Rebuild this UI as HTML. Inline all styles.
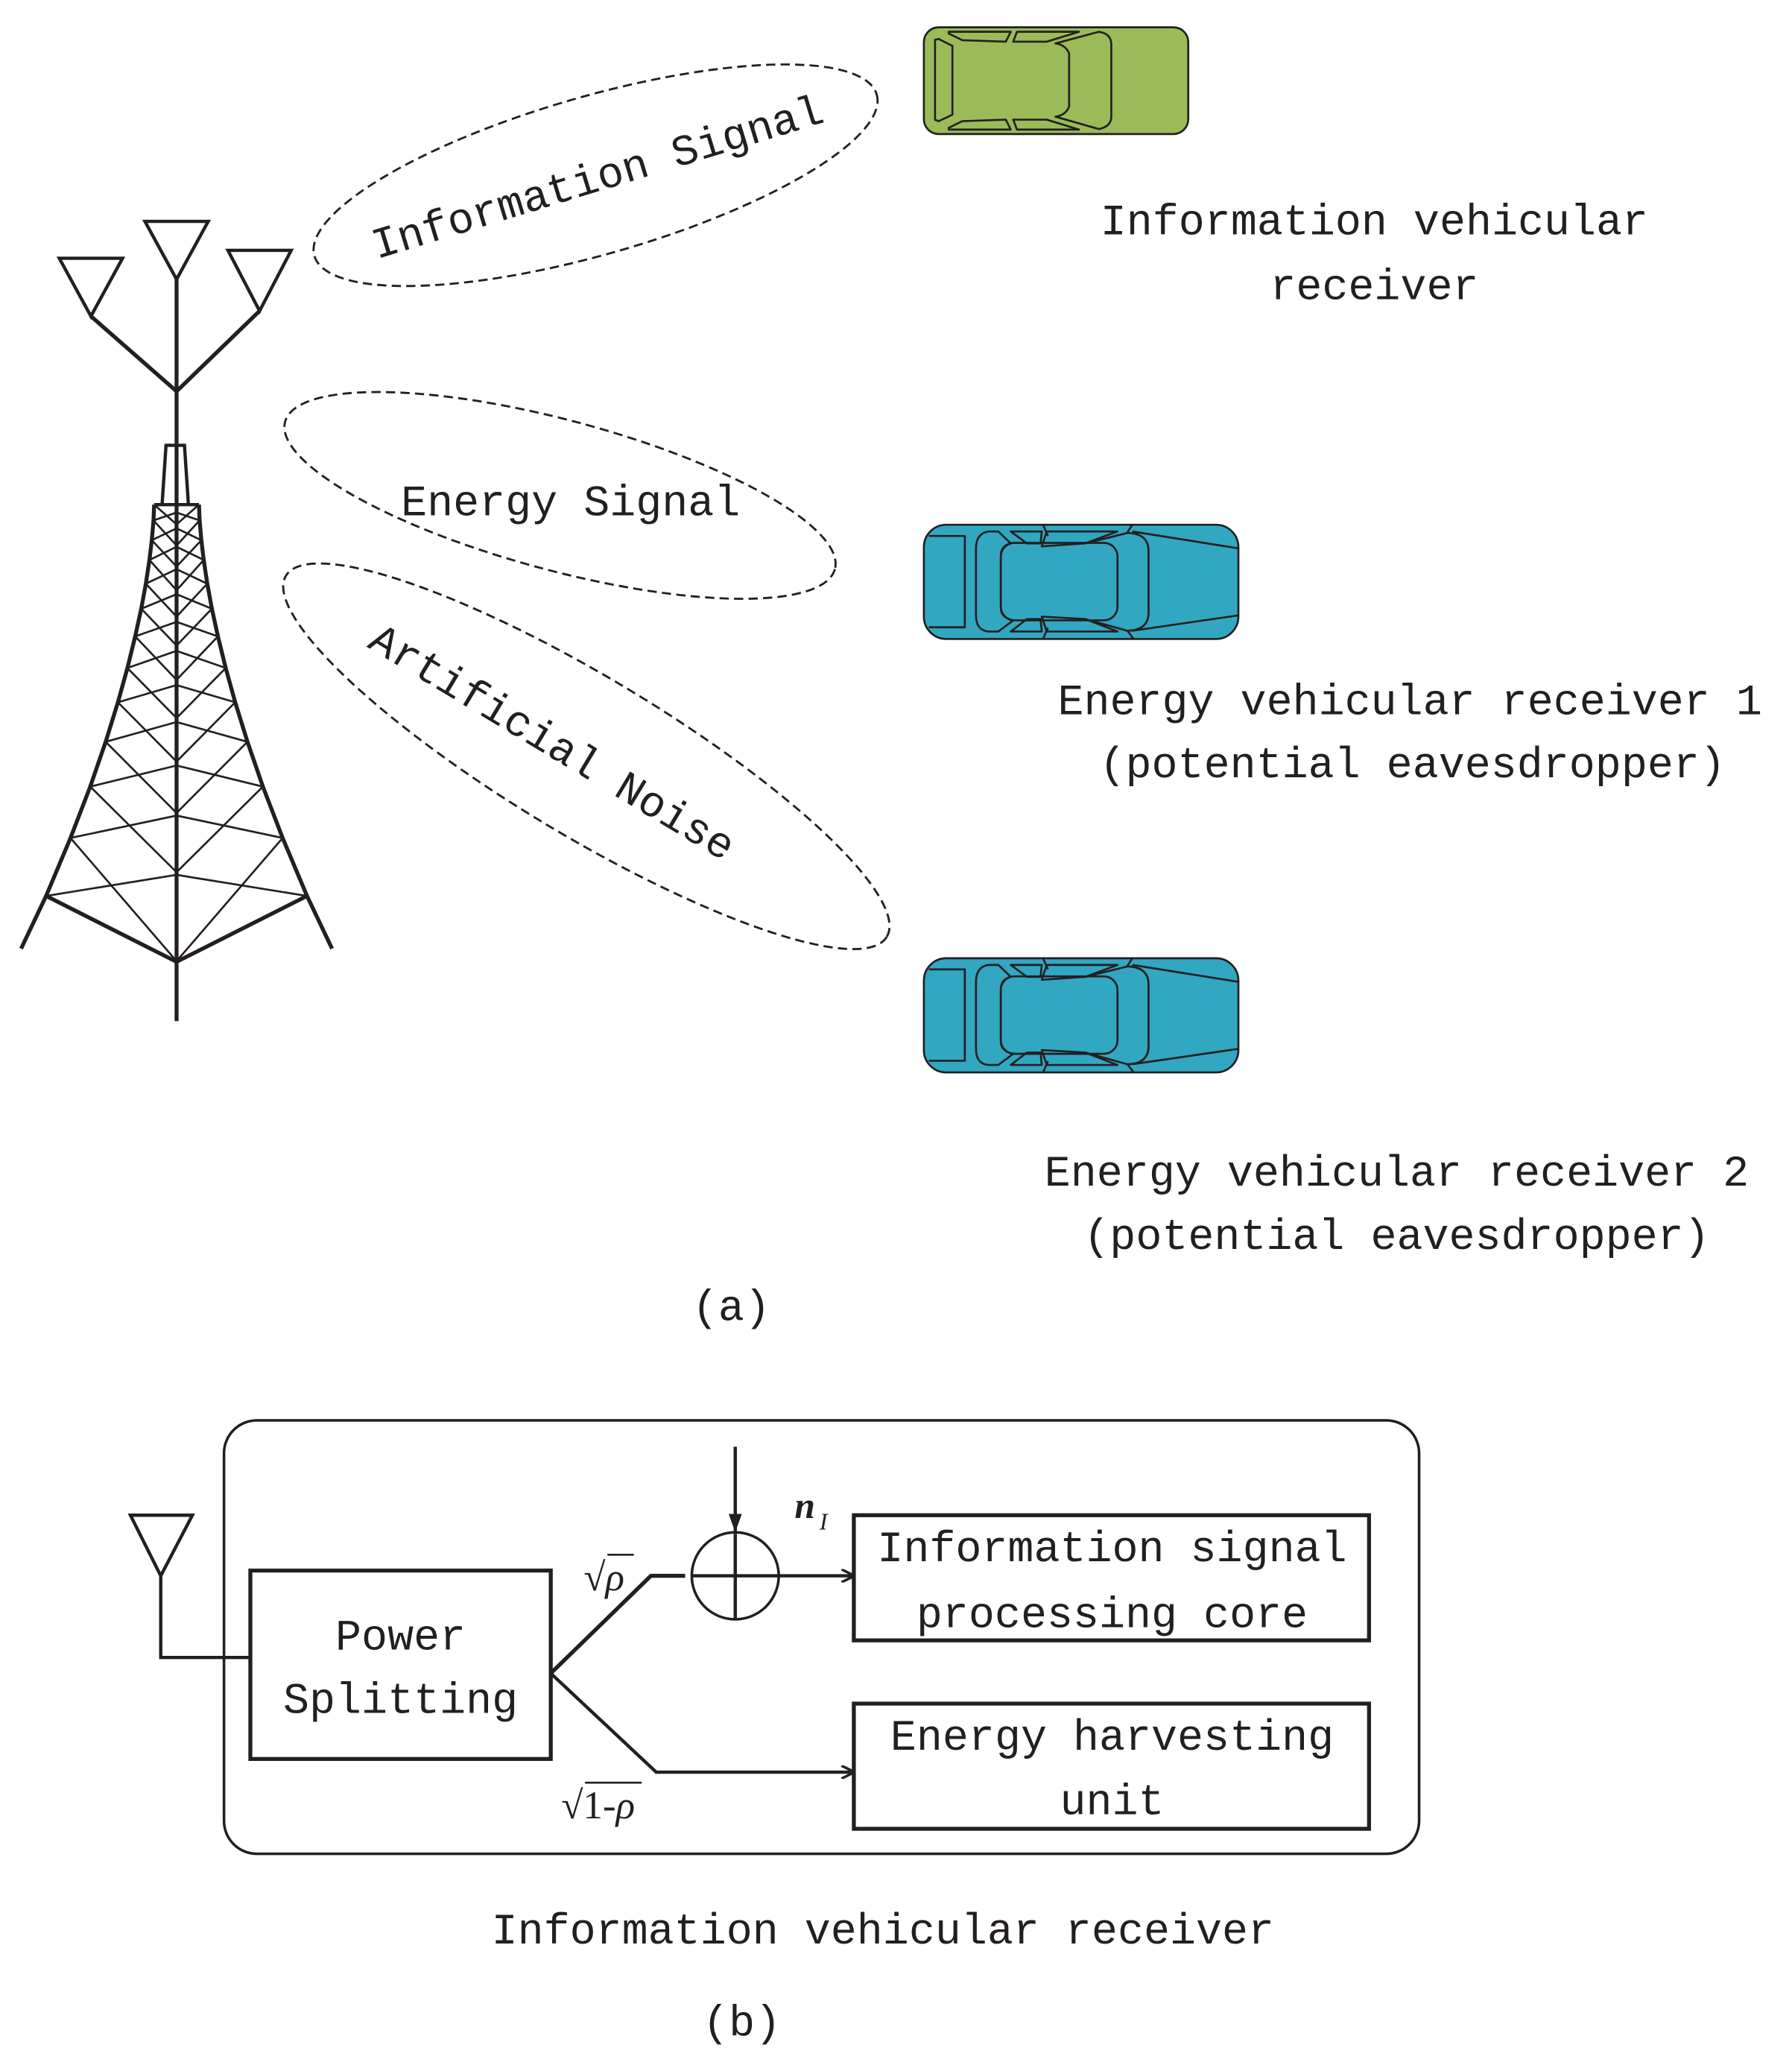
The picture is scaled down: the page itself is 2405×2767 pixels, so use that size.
<!DOCTYPE html>
<html><head><meta charset="utf-8"><style>html,body{margin:0;padding:0;background:#fff}svg{display:block}</style></head>
<body>
<svg width="2405" height="2767" viewBox="0 0 1360 1565" preserveAspectRatio="none" xmlns="http://www.w3.org/2000/svg" xmlns:xlink="http://www.w3.org/1999/xlink">
<defs>
<g id="half" stroke="#231f20" stroke-width="1.5" fill="none">
<polyline stroke-width="3" points="117,383 116.5,395 115.2,410 113.4,425 110.7,443 107.2,462 102.6,483 96.7,507 89.5,533 80.2,563 68.5,597 53.5,636 35,680 16,720"/>
<line x1="35" y1="680" x2="134" y2="730" stroke-width="3"/>
<path d="M117,383L134,398M134,389L116.5,395M116.5,395L134,414M134,401L115.2,410M115.2,410L134,430M134,415L113.4,425M113.4,425L134,448M134,432L110.7,443M110.7,443L134,468M134,451L107.2,462M107.2,462L134,490M134,472L102.6,483M102.6,483L134,516M134,494L96.7,507M96.7,507L134,545M134,520L89.5,533M89.5,533L134,578M134,548L80.2,563M80.2,563L134,617M134,581L68.5,597M68.5,597L134,662M134,619L53.5,636M53.5,636L134,729.5M134,664L35,680"/>
<line x1="117" y1="383" x2="134" y2="383" stroke-width="2.5"/>
</g>
<g id="bluecar" stroke="#231f20" stroke-width="8" fill="none" stroke-linejoin="round">
<rect x="30" y="45" width="1267" height="460" rx="90" fill="#32a7c2"/>
<path d="M50,90L195,90L195,458L50,458"/>
<path d="M330,72L290,72Q240,80 240,140L240,410Q240,470 290,475L330,475L390,430Q340,420 340,380L340,170Q340,130 380,120Z"/>
<rect x="340" y="118" width="470" height="312" rx="55"/>
<path d="M380,72L505,72L500,120L445,120Z M525,72L810,72L680,120L505,132Z"/>
<path d="M380,475L505,475L500,425L445,425Z M525,475L810,475L680,425L505,415Z"/>
<path d="M680,120L850,78Q935,80 935,150L935,400Q935,470 850,472L680,425"/>
<path d="M850,75L870,45M850,472L875,505M870,72L1297,140M870,472L1297,410M510,45L530,90M510,505L530,460"/>
</g>
<marker id="ah" viewBox="0 0 10 10" refX="9.5" refY="5" markerWidth="10" markerHeight="10" orient="auto" markerUnits="userSpaceOnUse"><path d="M0,0L10,5L0,10" fill="none" stroke="#231f20" stroke-width="2"/></marker>
</defs>

<g stroke="#231f20" fill="none" stroke-width="3">
<polygon points="110,168 158,168 134,212" stroke-width="2.5"/>
<polygon points="45,196 93,196 69,240" stroke-width="2.5"/>
<polygon points="173,190 221,190 197,236" stroke-width="2.5"/>
<line x1="134" y1="212" x2="134" y2="775"/>
<polyline points="69,240 134,297 197,236"/>
<polyline points="123,383 126,338 140,338 143,383" stroke-width="2.5"/>
</g>
<use xlink:href="#half"/>
<use xlink:href="#half" transform="translate(268,0) scale(-1,1)"/>

<g fill="none" stroke="#231f20" stroke-width="1.6" stroke-dasharray="7 4">
<ellipse cx="452" cy="133" rx="222" ry="60" transform="rotate(-16 452 133)"/>
<ellipse cx="425" cy="376" rx="216" ry="57" transform="rotate(15 425 376)"/>
<ellipse cx="445" cy="574" rx="266" ry="60" transform="rotate(31 445 574)"/>
</g>
<g font-family="'Liberation Mono', monospace" font-size="33" fill="#231f20" text-anchor="middle">
<text x="453" y="145" transform="rotate(-17 453 133)">Information Signal</text>
<text x="433" y="391">Energy Signal</text>
<text x="420" y="574" transform="rotate(31 420 562)">Artificial Noise</text>

<text x="1043" y="178">Information vehicular</text>
<text x="1043" y="227">receiver</text>
<text x="1070" y="542">Energy vehicular receiver 1</text>
<text x="1072" y="590">(potential eavesdropper)</text>
<text x="1060" y="900">Energy vehicular receiver 2</text>
<text x="1060" y="948">(potential eavesdropper)</text>
<text x="555" y="1002">(a)</text>

<text x="304" y="1252">Power</text>
<text x="304" y="1300">Splitting</text>
<text x="844" y="1185">Information signal</text>
<text x="844" y="1235">processing core</text>
<text x="844" y="1328">Energy harvesting</text>
<text x="844" y="1377">unit</text>
<text x="670" y="1475">Information vehicular receiver</text>
<text x="563" y="1545">(b)</text>
</g>

<g transform="translate(695.5,0) scale(0.1884)" stroke="#231f20" stroke-width="8" fill="none" stroke-linejoin="round">
<rect x="30" y="110" width="1065" height="430" rx="60" fill="#9bbb59"/>
<polygon points="75,160 90,157 145,185 145,462 90,488 75,483"/>
<polygon points="130,128 380,128 360,168 185,162 130,135"/>
<polygon points="405,128 655,128 525,168 390,168"/>
<polygon points="130,522 380,522 360,482 185,488 130,515"/>
<polygon points="405,522 655,522 525,482 390,482"/>
<path d="M560,175Q600,180 615,215L615,430Q600,465 560,470L735,520Q785,510 785,470L785,180Q785,135 735,128Z"/>
</g>
<g transform="translate(695.5,389.8) scale(0.1884)"><use xlink:href="#bluecar"/></g>
<g transform="translate(695.5,718.8) scale(0.1884)"><use xlink:href="#bluecar"/></g>

<g stroke="#231f20" fill="none">
<rect x="170" y="1078" width="907" height="329" rx="25" stroke-width="2"/>
<polygon points="99,1150 146,1150 122,1196" stroke-width="2.5"/>
<polyline points="122,1196 122,1258 190,1258" stroke-width="2.5"/>
<rect x="190" y="1192" width="228" height="143" stroke-width="3"/>
<rect x="648" y="1150" width="391" height="95" stroke-width="3"/>
<rect x="648" y="1293" width="391" height="95" stroke-width="3"/>
<polyline points="418,1270 494,1196 520,1196" stroke-width="3"/>
<line x1="525" y1="1196" x2="648" y2="1196" stroke-width="2.5" marker-end="url(#ah)"/>
<polyline points="418,1270 498,1345 648,1345" stroke-width="2.5" marker-end="url(#ah)"/>
<circle cx="558" cy="1196" r="33" stroke-width="2"/>
<line x1="558" y1="1098" x2="558" y2="1165" stroke-width="2.5"/>
<line x1="558" y1="1165" x2="558" y2="1229" stroke-width="2.5"/>
<polygon points="553,1149 563,1149 558,1163" fill="#231f20" stroke="none"/>
</g>
<g font-family="'Liberation Serif', serif" fill="#231f20">
<text x="603" y="1152" font-size="28" font-style="italic" font-weight="bold">n</text>
<text x="622" y="1161" font-size="18" font-style="italic">I</text>
<text x="443" y="1207" font-size="30">√<tspan font-style="italic">ρ</tspan></text>
<path d="M461,1180L481,1180" stroke="#231f20" stroke-width="1.5"/>
<text x="426" y="1380" font-size="30">√1-<tspan font-style="italic">ρ</tspan></text>
<path d="M444,1353L487,1353" stroke="#231f20" stroke-width="1.5"/>
</g>
</svg>
</body></html>
